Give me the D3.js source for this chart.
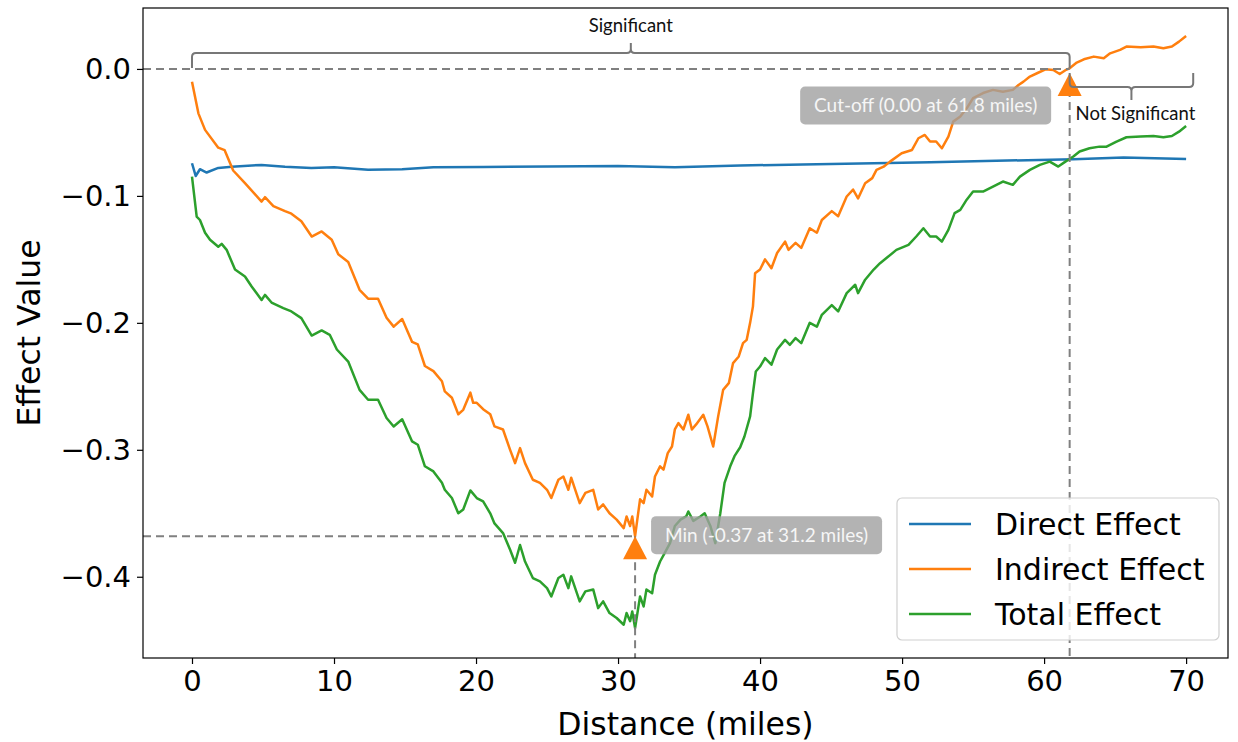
<!DOCTYPE html>
<html><head><meta charset="utf-8">
<script src="https://cdn.jsdelivr.net/npm/d3@7"></script>
<style>
html,body{margin:0;padding:0;background:#fff;}
svg{display:block;}
</style></head>
<body><svg id="chart" width="1238" height="742"></svg>
<script>
// ---------- data ----------
const directMiles = [0,0.26,0.56,1.03,1.85,2.8,4.9,6.55,8.4,10,12.4,14.8,17,20.5,25,30,34,38.6,43,48,52,57.4,62.06,65.6,70];
const directValues = [-0.0743,-0.0843,-0.079,-0.0816,-0.078,-0.077,-0.0756,-0.077,-0.078,-0.0775,-0.0795,-0.079,-0.0775,-0.0772,-0.0768,-0.0765,-0.0775,-0.0761,-0.0752,-0.0743,-0.0735,-0.0722,-0.0711,-0.0698,-0.0709];

const indirectMiles = [0,0.45,0.92,1.85,2.3,2.9,3.73,4.9,5.14,5.73,6.55,7,7.7,8.43,9.13,9.84,10.3,11,11.8,12.4,13.1,13.7,14.2,14.8,15.5,15.9,16.4,17,17.6,17.8,18.3,18.75,19.1,19.6,19.8,20.05,20.5,21,21.3,21.9,22.4,22.75,23.1,23.45,24,24.5,25,25.3,25.8,26.15,26.5,26.7,27.3,27.7,28.25,28.6,28.95,29.4,29.9,30.4,30.6,30.85,31,31.2,31.55,31.8,32,32.4,32.6,32.96,33.2,33.5,33.8,34,34.25,34.6,34.95,35.2,35.5,36,36.3,36.7,37.05,37.4,37.8,38.1,38.5,38.8,39.06,39.3,39.5,39.65,40,40.35,40.8,41.2,41.76,42,42.5,42.9,43.5,44,44.35,45.05,45.5,46.1,46.55,46.9,47.4,47.9,48.2,48.7,49.15,49.97,50.7,51.15,51.6,51.97,52.4,52.8,53.26,53.6,54.1,54.55,55,55.7,56.4,57.1,57.8,58.2,58.55,59,59.5,60.1,60.65,61.1,61.5,61.8,62.3,62.8,63.5,64.2,64.65,65.35,65.8,66.8,67.7,68.4,69,69.5,70];
const indirectValues = [-0.010,-0.035,-0.048,-0.062,-0.064,-0.080,-0.090,-0.1045,-0.101,-0.108,-0.112,-0.114,-0.120,-0.132,-0.128,-0.1346,-0.146,-0.152,-0.174,-0.181,-0.181,-0.196,-0.203,-0.197,-0.215,-0.217,-0.234,-0.238,-0.246,-0.254,-0.259,-0.272,-0.2685,-0.255,-0.263,-0.263,-0.268,-0.272,-0.2816,-0.284,-0.300,-0.3105,-0.2987,-0.3105,-0.3236,-0.326,-0.3315,-0.338,-0.3236,-0.321,-0.3315,-0.322,-0.342,-0.334,-0.3315,-0.347,-0.343,-0.350,-0.355,-0.3617,-0.3525,-0.360,-0.3525,-0.368,-0.339,-0.342,-0.3315,-0.3368,-0.321,-0.313,-0.3157,-0.3026,-0.2974,-0.284,-0.279,-0.284,-0.2724,-0.284,-0.280,-0.2724,-0.2816,-0.2974,-0.2737,-0.2528,-0.2475,-0.2317,-0.2265,-0.216,-0.2134,-0.200,-0.187,-0.161,-0.158,-0.150,-0.157,-0.145,-0.136,-0.1425,-0.137,-0.141,-0.1255,-0.129,-0.119,-0.112,-0.116,-0.1005,-0.095,-0.102,-0.090,-0.086,-0.0795,-0.077,-0.073,-0.0664,-0.0638,-0.0546,-0.052,-0.0572,-0.0572,-0.0625,-0.0533,-0.0415,-0.0375,-0.031,-0.023,-0.019,-0.0165,-0.018,-0.0165,-0.0126,-0.010,-0.006,-0.0034,-0.0003,-0.0008,-0.004,-0.001,0.0005,0.005,0.0076,0.0097,0.0084,0.0123,0.015,0.0176,0.017,0.0176,0.0163,0.0176,0.0215,0.026];

const totalMiles = [0,0.33,0.56,0.92,1.27,1.85,2.09,2.44,3.03,3.73,4.2,4.9,5.14,5.6,6.43,7,7.7,8.43,9.13,9.7,10.2,11,11.8,12.4,13.1,13.7,14.2,14.8,15.5,15.9,16.4,17,17.6,17.8,18.3,18.75,19.1,19.6,20.05,20.5,21,21.3,21.9,22.4,22.75,23.1,23.45,24,24.5,25,25.3,25.8,26.15,26.5,26.7,27.3,27.7,28.25,28.6,28.95,29.4,29.9,30.4,30.6,30.85,31,31.2,31.55,31.8,32,32.4,32.6,32.96,33.3,33.66,34,34.4,34.8,34.95,35.3,35.8,36.1,36.5,36.85,37.2,37.5,37.9,38.2,38.6,38.9,39.3,39.5,39.7,40,40.35,40.8,41.2,41.76,42.1,42.5,42.9,43.5,44,44.35,45.05,45.5,46.1,46.7,46.9,47.4,48,48.45,48.9,49.6,50.45,51,51.5,51.97,52.4,52.8,53.26,53.7,54.1,54.55,55,55.7,56.4,57.1,57.8,58.3,59,59.7,60.4,61,61.5,62.06,62.5,63.2,63.9,64.4,65.1,65.8,66.8,67.7,68.4,69,69.5,70];
const totalValues = [-0.0848,-0.1163,-0.119,-0.129,-0.1346,-0.140,-0.1378,-0.1425,-0.158,-0.1635,-0.1714,-0.182,-0.178,-0.184,-0.1884,-0.191,-0.1963,-0.210,-0.206,-0.2094,-0.221,-0.2305,-0.2528,-0.2606,-0.2606,-0.275,-0.2816,-0.276,-0.2934,-0.296,-0.313,-0.317,-0.326,-0.3315,-0.338,-0.350,-0.347,-0.332,-0.338,-0.3407,-0.350,-0.358,-0.3656,-0.3787,-0.389,-0.375,-0.388,-0.401,-0.4037,-0.409,-0.4155,-0.401,-0.3984,-0.409,-0.3997,-0.4194,-0.4115,-0.410,-0.4247,-0.4194,-0.4286,-0.4325,-0.4378,-0.4286,-0.435,-0.4273,-0.4404,-0.4155,-0.4234,-0.410,-0.413,-0.3984,-0.388,-0.381,-0.3735,-0.360,-0.355,-0.3525,-0.3486,-0.356,-0.3525,-0.350,-0.360,-0.3735,-0.350,-0.326,-0.313,-0.305,-0.298,-0.2895,-0.2737,-0.2553,-0.2383,-0.2344,-0.2278,-0.233,-0.221,-0.2134,-0.2173,-0.212,-0.216,-0.200,-0.203,-0.1937,-0.186,-0.191,-0.1766,-0.170,-0.1766,-0.166,-0.158,-0.153,-0.149,-0.1425,-0.1386,-0.132,-0.1255,-0.132,-0.132,-0.136,-0.1268,-0.1136,-0.111,-0.103,-0.0966,-0.0966,-0.0927,-0.0887,-0.0913,-0.0848,-0.0795,-0.0756,-0.073,-0.0769,-0.073,-0.069,-0.065,-0.0625,-0.0612,-0.0612,-0.0572,-0.0538,-0.0533,-0.0528,-0.0538,-0.0528,-0.0494,-0.0449];

const seriesNames = ["Direct Effect","Indirect Effect","Total Effect"];
const seriesColors = ["#1f77b4","#ff7f0e","#2ca02c"];
const xTicks = [0,10,20,30,40,50,60,70];
const yTicks = [0.0,-0.1,-0.2,-0.3,-0.4];

const minPoint = {miles:31.2, value:-0.368, label:"Min (-0.37 at 31.2 miles)"};
const cutPoint = {miles:61.8, value:0.0, label:"Cut-off (0.00 at 61.8 miles)"};
const braceSig = {from:0, to:61.8, label:"Significant"};
const braceNot = {from:61.8, to:70.5, label:"Not Significant"};

// ---------- layout ----------
const svg = d3.select("#chart");
const L=143, T=8, W=1085, H=650;
const x = d3.scaleLinear().domain([-3.45,72.95]).range([L,L+W]);
const y = d3.scaleLinear().domain([0.048,-0.464]).range([T,T+H]);
const fontMain = "DejaVu Sans, sans-serif";
const fontNote = "Lato, 'Open Sans', sans-serif";

const fmtY = v => (v===0 ? "0.0" : d3.format(".1f")(v).replace("-","\u2212"));

svg.append("defs").append("clipPath").attr("id","clip")
  .append("rect").attr("x",L).attr("y",T).attr("width",W).attr("height",H);

// series lines
const line = d3.line().x(d=>x(d[0])).y(d=>y(d[1]));
const series = [
  d3.zip(directMiles, directValues),
  d3.zip(indirectMiles, indirectValues),
  d3.zip(totalMiles, totalValues)
];
const gLines = svg.append("g").attr("clip-path","url(#clip)");
series.forEach((s,i)=>{
  gLines.append("path").datum(s).attr("d",line)
    .attr("fill","none").attr("stroke",seriesColors[i])
    .attr("stroke-width",2.5).attr("stroke-linejoin","round");
});

// dashed reference lines
const gRef = svg.append("g").attr("stroke","#808080").attr("stroke-width",2).attr("stroke-dasharray","8,5").attr("fill","none");
gRef.append("line").attr("x1",L).attr("x2",x(cutPoint.miles)).attr("y1",y(cutPoint.value)).attr("y2",y(cutPoint.value));
gRef.append("line").attr("x1",x(cutPoint.miles)).attr("x2",x(cutPoint.miles)).attr("y1",y(cutPoint.value)+20).attr("y2",T+H);
gRef.append("line").attr("x1",L).attr("x2",x(minPoint.miles)).attr("y1",y(minPoint.value)).attr("y2",y(minPoint.value));
gRef.append("line").attr("x1",x(minPoint.miles)).attr("x2",x(minPoint.miles)).attr("y1",y(minPoint.value)).attr("y2",T+H);

// triangles
function tri(px,py){ return `M${px},${py} L${px-12},${py+23} L${px+12},${py+23} Z`; }
svg.append("path").attr("d",tri(x(minPoint.miles),y(minPoint.value))).attr("fill","#ff7f0e");
svg.append("path").attr("d",tri(x(cutPoint.miles),y(cutPoint.value)+4)).attr("fill","#ff7f0e");

// label boxes
function labelBox(cx,cy,w,h,text){
  svg.append("rect").attr("x",cx-w/2).attr("y",cy-h/2).attr("width",w).attr("height",h)
    .attr("rx",5).attr("fill","#a0a0a0").attr("fill-opacity",0.8);
  svg.append("text").attr("x",cx).attr("y",cy).attr("dy","0.35em").attr("text-anchor","middle")
    .attr("font-family",fontNote).attr("font-size",19).attr("fill","#f6f6f6").text(text);
}
labelBox(x(cutPoint.miles)-144, y(cutPoint.value)+36.5, 251, 38, cutPoint.label);
labelBox(x(minPoint.miles)+131.5, y(minPoint.value)-1, 231, 38, minPoint.label);

// braces
function bracePath(x1,x2,yEnd,yBar,yTip){
  const xc=(x1+x2)/2, r=4, s=Math.sign(yBar-yEnd), t=Math.sign(yTip-yBar);
  return `M${x1},${yEnd} L${x1},${yBar-s*r} Q${x1},${yBar} ${x1+r},${yBar} L${xc-r},${yBar} Q${xc},${yBar} ${xc},${yBar+t*r} L${xc},${yTip}`+
         ` M${xc},${yBar+t*r} Q${xc},${yBar} ${xc+r},${yBar} L${x2-r},${yBar} Q${x2},${yBar} ${x2},${yBar-s*r} L${x2},${yEnd}`;
}
const y0 = y(0);
svg.append("path").attr("d",bracePath(x(braceSig.from),x(braceSig.to),y0-1,y0-16,y0-26))
  .attr("fill","none").attr("stroke","#777").attr("stroke-width",2);
svg.append("text").attr("x",(x(braceSig.from)+x(braceSig.to))/2).attr("y",y0-37)
  .attr("text-anchor","middle").attr("font-family",fontNote).attr("font-size",18.5).attr("fill","#111").text(braceSig.label);
svg.append("path").attr("d",bracePath(x(braceNot.from),x(braceNot.to),y0+4,y0+18,y0+31))
  .attr("fill","none").attr("stroke","#777").attr("stroke-width",2);
svg.append("text").attr("x",(x(braceNot.from)+x(braceNot.to))/2+4).attr("y",y0+51)
  .attr("text-anchor","middle").attr("font-family",fontNote).attr("font-size",18.5).attr("fill","#111").text(braceNot.label);

// axes
const gx = svg.append("g").attr("transform",`translate(0,${T+H})`)
  .call(d3.axisBottom(x).tickValues(xTicks).tickFormat(d3.format("d")).tickSize(6).tickPadding(6));
const gy = svg.append("g").attr("transform",`translate(${L},0)`)
  .call(d3.axisLeft(y).tickValues(yTicks).tickFormat(fmtY).tickSize(6).tickPadding(6));
[gx,gy].forEach(g=>{
  g.select(".domain").remove();
  g.selectAll("line").attr("stroke","#000").attr("stroke-width",1.2);
  g.selectAll("text").attr("font-family",fontMain).attr("font-size",29).attr("fill","#000");
});
svg.append("rect").attr("x",L).attr("y",T).attr("width",W).attr("height",H)
  .attr("fill","none").attr("stroke","#000").attr("stroke-width",1.2);

// axis titles
svg.append("text").attr("x",L+W/2).attr("y",735).attr("text-anchor","middle")
  .attr("font-family",fontMain).attr("font-size",31.5).attr("fill","#000").text("Distance (miles)");
svg.append("text").attr("transform",`translate(40,${T+H/2}) rotate(-90)`).attr("text-anchor","middle")
  .attr("font-family",fontMain).attr("font-size",31.5).attr("fill","#000").text("Effect Value");

// legend
const lg = svg.append("g");
lg.append("rect").attr("x",897).attr("y",498).attr("width",322).attr("height",142).attr("rx",5)
  .attr("fill","#fff").attr("fill-opacity",0.8).attr("stroke","#d0d0d0").attr("stroke-width",1.2);
seriesNames.forEach((n,i)=>{
  const yy = 524 + i*45;
  lg.append("line").attr("x1",909).attr("x2",971).attr("y1",yy).attr("y2",yy)
    .attr("stroke",seriesColors[i]).attr("stroke-width",2.5);
  lg.append("text").attr("x",995).attr("y",yy).attr("dy","0.36em")
    .attr("font-family",fontMain).attr("font-size",30).attr("fill","#000").text(n);
});
</script>
</body></html>
